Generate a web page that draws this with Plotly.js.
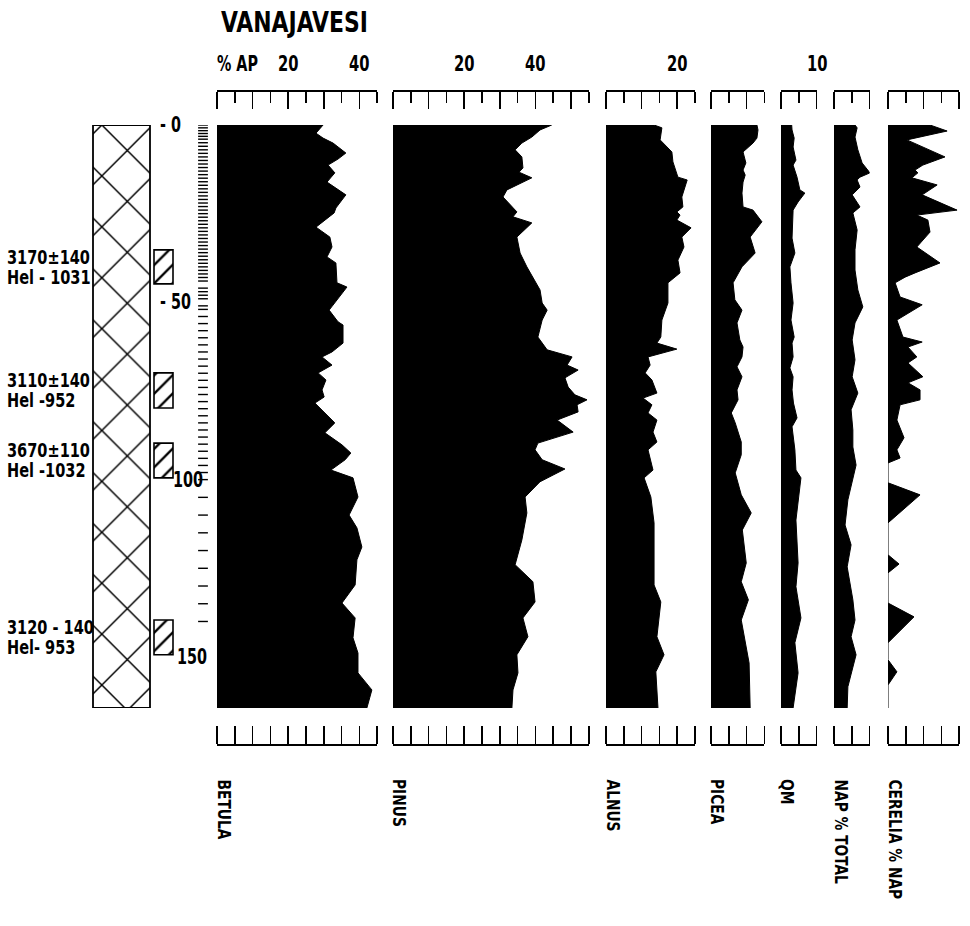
<!DOCTYPE html>
<html><head><meta charset="utf-8">
<script src="https://cdn.plot.ly/plotly-3.0.1.min.js"></script>
<style>html,body{margin:0;padding:0;background:#fff}#chart{width:970px;height:926px}</style>
</head><body><div id="chart"></div>
<script>
// ---------- DATA (depth in cm, values in %) ----------
const siteName = 'VANAJAVESI';
const taxa = ['BETULA','PINUS','ALNUS','PICEA','QM','NAP % TOTAL','CERELIA % NAP'];

const betulaDepth = [0,2.3,3.7,5.1,7.9,9.6,11.3,13.5,16.1,19.7,23.4,24.8,28.8,31.6,34.4,37.2,38.9,44.5,45.7,49.3,52.2,55.5,56.4,61.5,64.0,65.4,67.7,69.9,71.9,74.7,76.7,78.4,84.0,86.8,90.2,92.5,94.4,97.3,99.5,104.9,110.0,113.6,119.0,122.6,129.7,134.8,139.0,144.6,148.9,154.5,159.3,164.4];
const betulaVal = [29.8,27.8,29.8,32.6,36.2,34.0,31.2,33.1,30.9,36.2,33.4,32.9,27.8,31.7,32.3,30.9,33.4,33.7,36.5,33.7,31.5,34.0,35.4,35.4,32.3,29.5,32.3,28.4,30.6,29.5,30.1,27.5,33.1,30.3,35.1,37.6,36.0,32.0,38.2,39.6,37.1,39.3,40.7,39.3,38.8,35.1,38.8,38.2,39.6,39.6,43.5,42.1];

const pinusDepth = [0,1.4,3.4,5.1,7.0,9.0,12.1,13.3,14.9,18.3,20.3,23.1,24.5,25.9,27.6,31.6,36.1,40.0,46.5,50.2,52.2,55.0,59.8,63.4,65.4,67.7,69.1,71.3,73.9,76.1,77.5,78.9,80.9,83.2,86.6,89.7,91.6,94.4,97.0,100.6,104.9,109.4,117.0,124.0,128.8,134.5,139.0,144.3,149.4,154.5,159.3,164.4];
const pinusVal = [44.6,41.3,39.0,36.2,34.3,36.2,36.5,35.4,39.0,32.0,30.9,33.7,34.8,33.7,39.0,34.8,35.7,37.6,41.3,41.9,43.3,41.9,40.7,43.3,50.3,48.9,52.0,48.3,49.2,51.1,54.5,51.7,52.0,46.1,50.6,40.7,39.9,41.9,48.3,41.3,37.1,37.6,36.2,34.3,39.3,39.9,36.5,37.9,34.8,35.1,33.7,33.4];

const alnusDepth = [0,0.8,4.2,7.6,10.4,14.7,15.5,20.3,23.1,24.5,25.4,26.8,29.0,31.6,34.4,38.1,41.7,44.5,50.2,55.0,59.8,61.5,63.2,65.4,67.7,69.9,71.9,75.6,77.0,78.9,81.2,83.2,86.6,89.4,91.6,97.3,99.5,104.9,112.2,129.7,134.5,144.3,149.4,154.2,164.4];
const alnusVal = [13.5,15.7,15.2,18.5,18.8,20.2,22.8,21.3,21.6,19.9,20.8,19.9,23.9,21.3,21.9,20.2,20.8,17.4,17.4,15.7,15.4,14.3,19.9,11.8,12.4,11.0,12.9,14.3,10.4,12.9,11.8,14.3,13.2,14.3,11.8,13.2,10.7,12.6,13.5,13.5,15.4,14.3,16.3,14.0,14.6];

const piceaDepth = [0,1.4,3.7,5.1,7.6,10.7,12.7,14.1,16.1,19.2,23.1,24.0,27.3,31.6,36.1,40.0,44.5,49.3,52.2,55.8,60.6,62.6,65.4,68.2,71.0,74.7,77.5,81.2,84.0,89.4,93.0,98.1,104.3,109.4,114.2,123.5,128.8,133.9,139.6,145.2,151.7,164.4];
const piceaVal = [12.9,13.2,12.9,11.8,9.0,9.8,9.0,9.6,9.0,8.7,9.0,11.8,14.3,11.0,12.4,8.7,6.2,6.7,8.7,7.3,8.1,9.0,8.7,7.3,8.7,7.3,7.6,5.7,6.8,8.5,8.5,6.8,8.5,11.3,8.8,9.9,8.5,10.5,8.5,9.6,10.7,11.0];

const qmDepth = [0,1.4,3.7,6.2,9.9,11.3,14.7,18.3,19.2,21.7,24.0,28.8,31.9,36.1,40.0,44.5,50.2,55.0,59.8,61.5,65.4,68.5,71.0,74.7,78.4,82.6,85.1,91.6,97.3,99.5,106.6,111.4,123.5,130.2,139.0,146.0,154.5,164.4];
const qmVal = [3.0,3.1,3.7,3.4,4.2,3.4,4.5,5.3,6.7,4.8,3.4,3.1,3.1,3.9,2.5,2.8,3.4,2.8,3.7,3.1,3.4,2.5,3.4,3.1,3.5,4.5,3.1,3.9,4.2,5.6,4.8,4.2,4.8,4.2,5.6,3.9,4.8,3.4];

const napDepth = [0,0.8,3.4,7.0,10.7,13.5,14.7,15.5,17.5,19.7,23.1,24.8,29.6,35.2,40.9,46.5,51.3,55.8,60.6,66.2,71.0,75.6,80.3,86.0,90.8,95.9,105.7,112.8,118.4,124.6,133.9,139.6,144.3,149.4,158.4,164.4];
const napVal = [5.9,6.5,5.9,6.7,7.9,10.1,7.3,6.5,7.3,5.1,7.3,5.3,6.5,5.9,5.9,6.7,8.1,5.9,5.1,5.9,5.1,6.7,4.8,5.3,5.3,6.2,3.9,3.1,4.8,3.7,5.3,5.9,4.8,6.2,3.9,3.7];

const cereliaDepth = [0,1.7,4.2,9.0,11.3,12.7,13.5,14.9,16.9,19.7,24.0,25.4,26.8,30.2,34.4,38.9,41.7,42.9,44.5,48.5,50.7,55.0,59.8,61.2,62.6,65.4,67.1,71.0,72.7,74.7,77.5,78.9,83.2,88.2,91.6,93.9,95.3,100.9,104.3,112.2,121.2,123.8,126.3,134.8,138.7,146.0,150.8,154.2,157.9,164.4];
const cereliaVal = [11.8,16.6,5.3,16.0,9.8,7.6,8.4,6.7,13.8,9.6,19.4,8.1,11.2,11.8,8.1,14.6,7.6,4.8,2.0,3.4,9.6,2.5,4.2,9.6,5.6,8.1,5.6,9.8,5.6,9.0,9.0,3.4,2.5,4.5,2.5,3.4,0,0,9.0,0,0,3.1,0,0,7.3,0,0,2.5,0,0];

// sample levels (depth ticks)
const sampleDepths = [0,0.8,1.6,2.4,3.2,4,5,6,7,8,9,10,11,12,13,14,15,16,17,18,19,20,21,22,23,24,25,26,27,28,29,30,31,32,33,34,35,36,37,38,39,40,41,42,43,44,46,47,48,49,51,52,54,56,58,60,62,64,66,68,70,72,74,76,78,80,82,84,86,88,90,92,94,96,98,100,105,110,115,120,125,130,135,140];

// radiocarbon dates
const c14Top = [35.2, 69.9, 89.7, 139.6];
const c14Bottom = [44.8, 79.8, 99.5, 149.4];
const c14Age = ['3170\u00b1140','3110\u00b1140','3670\u00b1110','3120 - 140'];
const c14Lab = ['Hel - 1031','Hel -952','Hel -1032','Hel- 953'];

const depthTickVals = [0, 50, 100, 150];
const depthTickText = ['- 0', '- 50', '100', '150'];
const coreBottom = 164.4;

// ---------- LAYOUT ----------
const W = 970, H = 926;
const px = v => v / W, py = v => 1 - v / H;
const FONT = '"DejaVu Sans Condensed","Liberation Sans Narrow","Arial Narrow",sans-serif';
const SC = 3.56; // px per percent

const panels = [
  {label: taxa[0], d: betulaDepth, v: betulaVal, max: 45, x0: 217},
  {label: taxa[1], d: pinusDepth, v: pinusVal, max: 55, x0: 393},
  {label: taxa[2], d: alnusDepth, v: alnusVal, max: 25, x0: 606},
  {label: taxa[3], d: piceaDepth, v: piceaVal, max: 15, x0: 711},
  {label: taxa[4], d: qmDepth, v: qmVal, max: 10, x0: 781},
  {label: taxa[5], d: napDepth, v: napVal, max: 10, x0: 834},
  {label: taxa[6], d: cereliaDepth, v: cereliaVal, max: 20, x0: 888}
];

const traces = [];
const layout = {
  width: W, height: H, margin: {l:0, r:0, t:0, b:0},
  paper_bgcolor: '#fff', plot_bgcolor: 'rgba(0,0,0,0)', showlegend: false,
  font: {family: FONT, color: '#000'},
  yaxis: {domain: [py(708), py(125)], range: [coreBottom, 0], visible: false, fixedrange: true},
  annotations: [], shapes: [], barmode: 'overlay'
};
const squeeze = []; // horizontal condensing factor per annotation
function addAnn(a, f) { layout.annotations.push(a); squeeze.push(f); }

panels.forEach((p, i) => {
  const b = 2 * i + 1, t = 2 * i + 2;
  const bn = b === 1 ? 'x' : 'x' + b;
  const dom = [px(p.x0), px(p.x0 + p.max * SC)];
  const rng = [0, p.max];
  // lower scale: line at y=744, ticks pointing up
  layout['xaxis' + (b === 1 ? '' : b)] = {
    domain: dom, range: rng, anchor: 'free', position: py(744), side: 'top',
    showline: true, linewidth: 1.6, linecolor: '#000',
    ticks: 'outside', ticklen: 18, tickwidth: 1.6, tickcolor: '#000', tick0: 0, dtick: 5,
    showticklabels: false, showgrid: false, zeroline: false, fixedrange: true
  };
  // upper scale: line at y=90, ticks pointing down
  layout['xaxis' + t] = {
    domain: dom, range: rng, anchor: 'free', position: py(90), side: 'bottom', overlaying: bn,
    showline: true, linewidth: 1.6, linecolor: '#000',
    ticks: 'outside', ticklen: 17, tickwidth: 1.6, tickcolor: '#000', tick0: 0, dtick: 10,
    minor: {ticks: 'outside', ticklen: 11, tickwidth: 1.6, tickcolor: '#000', dtick: 5, tick0: 0, showgrid: false},
    showticklabels: false, showgrid: false, zeroline: false, fixedrange: true
  };
  traces.push({
    type: 'scatter', mode: 'lines', x: p.v, y: p.d, xaxis: bn, yaxis: 'y',
    fill: 'tozerox', fillcolor: '#000', line: {color: '#000', width: 1, shape: 'linear'},
    hoverinfo: 'skip'
  });
  // same data on the upper scale axis (draws nothing; makes that scale render)
  traces.push({type: 'scatter', mode: 'none', x: p.v, y: p.d, xaxis: 'x' + t, yaxis: 'y', hoverinfo: 'skip'});
  addAnn({
    xref: bn, yref: 'paper', x: 0, y: py(777), xshift: 7, xanchor: 'center', yanchor: 'top', align: 'left',
    text: p.label, textangle: 90, showarrow: false,
    font: {family: FONT, size: 18, weight: 'bold', color: '#000'}
  }, 0.85);
});

// top scale numbers
const topLabels = [
  {ax: 'x', x: 20, t: '20'}, {ax: 'x', x: 40, t: '40'},
  {ax: 'x3', x: 20, t: '20'}, {ax: 'x3', x: 40, t: '40'},
  {ax: 'x5', x: 20, t: '20'}, {ax: 'x9', x: 10, t: '10'}
];
topLabels.forEach(l => addAnn({
  xref: l.ax, yref: 'paper', x: l.x, y: py(64), xanchor: 'center', yanchor: 'middle',
  text: l.t, showarrow: false, font: {family: FONT, size: 21, weight: 'bold'}
}, 0.78));
addAnn({
  xref: 'x', yref: 'paper', x: 0, y: py(64), xanchor: 'left', yanchor: 'middle', xshift: -2, align: 'left',
  text: '% AP', showarrow: false, font: {family: FONT, size: 21, weight: 'bold'}
}, 0.76);
addAnn({
  xref: 'paper', yref: 'paper', x: px(219), y: py(22), xanchor: 'left', yanchor: 'middle', align: 'left',
  text: siteName, showarrow: false, font: {family: FONT, size: 29, weight: 'bold'}
}, 0.84);

// left column axis (pixel units)
layout.xaxis15 = {domain: [0, px(210)], range: [0, 210], anchor: 'y', visible: false, fixedrange: true};

// lithology column
traces.push({
  type: 'bar', xaxis: 'x15', yaxis: 'y', x: [121.5], y: [coreBottom], base: [0], width: [57],
  marker: {color: '#fff', line: {color: '#000', width: 1.8},
    pattern: {shape: 'x', fgcolor: '#000', fgopacity: 1, bgcolor: '#fff', size: 36, solidity: 0.08, fillmode: 'overlay'}},
  hoverinfo: 'skip'
});
// radiocarbon sample boxes
traces.push({
  type: 'bar', xaxis: 'x15', yaxis: 'y',
  x: c14Top.map(() => 163.5), y: c14Top.map((t, i) => c14Bottom[i] - t), base: c14Top,
  width: c14Top.map(() => 19),
  marker: {color: '#fff', line: {color: '#000', width: 1.6},
    pattern: {shape: '/', fgcolor: '#000', fgopacity: 1, bgcolor: '#fff', size: 13, solidity: 0.18, fillmode: 'overlay'}},
  hoverinfo: 'skip'
});
// sample level ticks
traces.push({
  type: 'scatter', mode: 'markers', xaxis: 'x15', yaxis: 'y',
  x: sampleDepths.map(() => 203), y: sampleDepths,
  marker: {symbol: 'line-ew', size: 7, line: {color: '#000', width: 1.4}}, hoverinfo: 'skip'
});

// date labels
c14Top.forEach((t, i) => {
  const mid = (t + c14Bottom[i]) / 2;
  addAnn({xref: 'x15', yref: 'y', x: 5, y: mid, yshift: 10, xanchor: 'left', yanchor: 'middle', align: 'left',
    text: c14Age[i], showarrow: false, font: {family: FONT, size: 19, weight: 'bold'}}, 0.85);
  addAnn({xref: 'x15', yref: 'y', x: 5, y: mid, yshift: -10, xanchor: 'left', yanchor: 'middle', align: 'left',
    text: c14Lab[i], showarrow: false, font: {family: FONT, size: 19, weight: 'bold'}}, 0.85);
});
// depth labels
const depthLabelX = [158, 158, 171, 175];
depthTickVals.forEach((d, i) => addAnn({
  xref: 'x15', yref: 'y', x: depthLabelX[i], y: d, xanchor: 'left', yanchor: 'middle', align: 'left',
  text: depthTickText[i], showarrow: false, font: {family: FONT, size: 21, weight: 'bold'}
}, 0.76));

Plotly.newPlot('chart', traces, layout, {staticPlot: true, displayModeBar: false}).then(gd => {
  // condense the lettering horizontally, like the narrow typeface of the original figure
  gd.querySelectorAll('g.annotation').forEach(g => {
    const i = +g.getAttribute('data-index');
    const f = squeeze[i];
    const t = g.querySelector('text.annotation-text');
    if (!t || !f) return;
    const w = t.getComputedTextLength();
    t.setAttribute('textLength', (w * f).toFixed(1));
    t.setAttribute('lengthAdjust', 'spacingAndGlyphs');
  });
});
</script></body></html>
